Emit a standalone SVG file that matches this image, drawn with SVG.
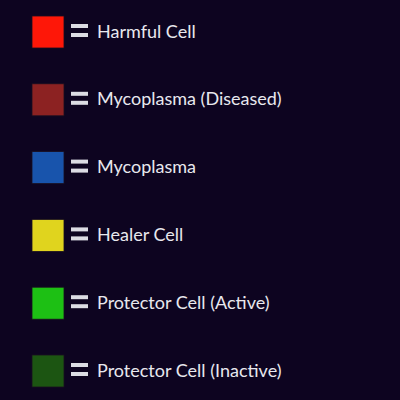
<svg xmlns="http://www.w3.org/2000/svg" width="400" height="400" viewBox="0 0 400 400">
<style>
.sw{stroke:#1a1020;stroke-width:0.8}
.eq{fill:#dcdce4}
.lb{font-family:Lato,"Open Sans","Liberation Sans",sans-serif;font-size:18px;fill:#e8e8ee}
</style>
<defs>
<g id="eqs"><rect class="eq" x="71" y="-8" width="17" height="4"/><rect class="eq" x="71" y="1" width="17" height="4"/></g>
</defs>
<rect width="400" height="400" fill="#0d0420"/>
<g id="harmful" transform="translate(0,32)">
<rect class="sw" x="32" y="-16" width="32" height="32" fill="#fe1708"/>
<use href="#eqs"/>
<text class="lb" x="97" y="5.5">Harmful Cell</text>
</g>
<g id="mycoplasma-diseased" transform="translate(0,99.8)">
<rect class="sw" x="32" y="-16" width="32" height="32" fill="#8c2222"/>
<use href="#eqs"/>
<text class="lb" x="97" y="5.5">Mycoplasma (Diseased)</text>
</g>
<g id="mycoplasma" transform="translate(0,167.6)">
<rect class="sw" x="32" y="-16" width="32" height="32" fill="#1854ac"/>
<use href="#eqs"/>
<text class="lb" x="97" y="5.5">Mycoplasma</text>
</g>
<g id="healer" transform="translate(0,235.4)">
<rect class="sw" x="32" y="-16" width="32" height="32" fill="#e0d41e"/>
<use href="#eqs"/>
<text class="lb" x="97" y="5.5">Healer Cell</text>
</g>
<g id="protector-active" transform="translate(0,303.2)">
<rect class="sw" x="32" y="-16" width="32" height="32" fill="#1dc014"/>
<use href="#eqs"/>
<text class="lb" x="97" y="5.5">Protector Cell (Active)</text>
</g>
<g id="protector-inactive" transform="translate(0,371)">
<rect class="sw" x="32" y="-16" width="32" height="32" fill="#1c5512"/>
<use href="#eqs"/>
<text class="lb" x="97" y="5.5">Protector Cell (Inactive)</text>
</g>
</svg>
